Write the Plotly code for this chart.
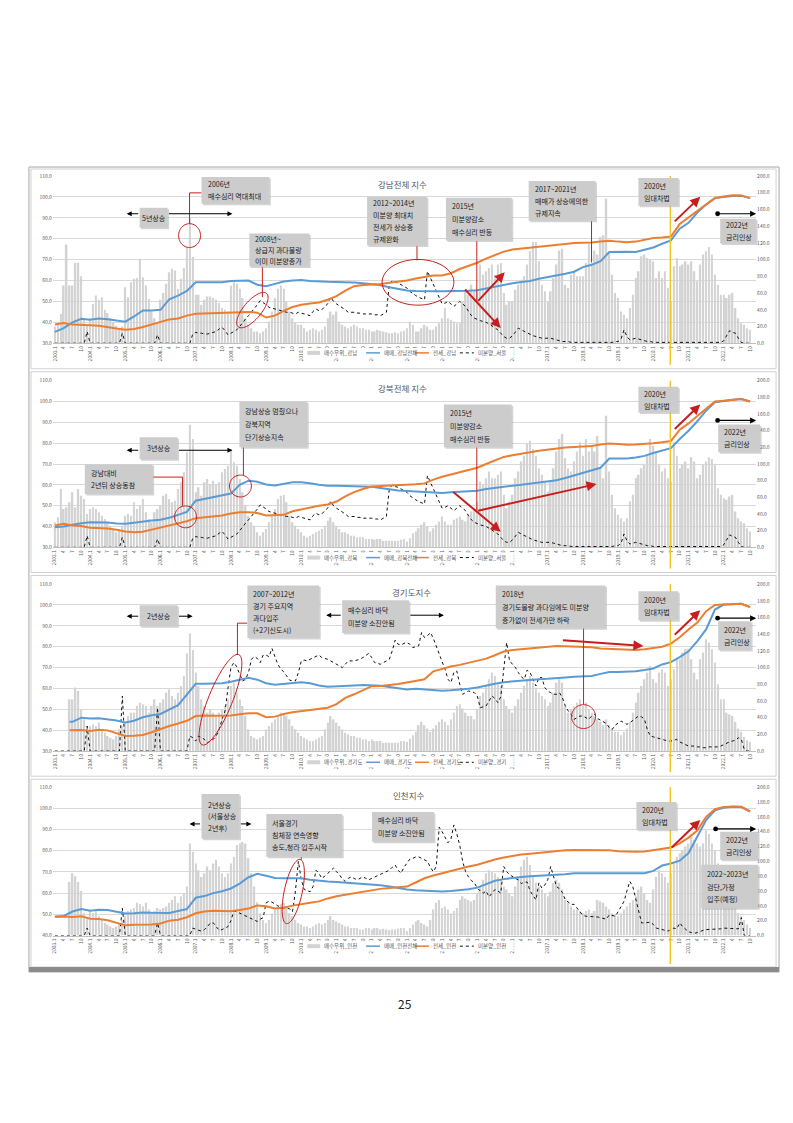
import math
import plotly.graph_objects as go

W, H = 793, 1123
FONT = "Noto Sans CJK KR, Noto Sans, sans-serif"


def px(x):
    return x / W


def py(y):
    return 1 - y / H


# ---------------------------------------------------------------- data
START_YEAR = 2003
N_MONTHS = 238  # 2003.1 .. 2022.10
MONTHS = list(range(N_MONTHS))
TICK_IDX = list(range(0, N_MONTHS, 3))
TICK_TEXT = [f"{START_YEAR + i // 12}.1" if i % 12 == 0 else str(i % 12 + 1) for i in TICK_IDX]
QX = list(range(0, N_MONTHS, 3))            # quarterly sample months for index lines
GG_QX = [5] + list(range(6, N_MONTHS, 3))   # Gyeonggi index lines start later

# buying-superiority index (bars, right axis)
GN_BUY = [
    20, 25, 35, 69, 118, 69, 69, 96, 96, 80, 30, 22,
    30, 47, 57, 52, 55, 40, 36, 30, 25, 21, 18, 20,
    67, 55, 73, 77, 78, 101, 79, 69, 53, 38, 30, 25,
    52, 60, 71, 85, 89, 87, 65, 77, 90, 115, 149, 103,
    58, 58, 46, 52, 56, 56, 54, 52, 48, 42, 40, 38,
    69, 73, 71, 65, 54, 30, 22, 18, 14, 14, 12, 14,
    18, 26, 38, 54, 65, 69, 65, 50, 38, 30, 25, 22,
    22, 18, 14, 16, 18, 16, 14, 16, 20, 30, 38, 34,
    38, 26, 22, 20, 18, 20, 22, 20, 18, 18, 16, 16,
    14, 14, 16, 15, 14, 13, 12, 12, 13, 12, 14, 15,
    18, 26, 22, 14, 14, 18, 22, 20, 16, 16, 20, 24,
    30, 42, 30, 28, 26, 24, 24, 50, 64, 58, 70, 62,
    62, 94, 82, 86, 90, 94, 82, 94, 96, 60, 46, 50,
    50, 64, 70, 76, 80, 94, 110, 121, 121, 98, 70, 62,
    50, 62, 78, 94, 111, 113, 70, 66, 82, 86, 80, 80,
    80, 96, 119, 96, 111, 106, 127, 129, 173, 110, 82, 60,
    54, 38, 34, 30, 42, 58, 78, 86, 104, 106, 102, 100,
    98, 78, 86, 78, 86, 66, 50, 92, 102, 92, 94, 98,
    94, 98, 86, 74, 94, 106, 110, 115, 106, 82, 70, 58,
    58, 54, 58, 60, 42, 30, 24, 22, 18, 16,
]
GB_BUY = [
    30, 36, 70, 46, 48, 54, 66, 48, 70, 62, 58, 40,
    46, 48, 46, 42, 38, 34, 30, 26, 22, 18, 22, 26,
    38, 40, 38, 54, 46, 50, 58, 42, 34, 30, 42, 46,
    50, 62, 64, 58, 54, 56, 70, 78, 90, 114, 147, 130,
    66, 72, 62, 78, 82, 76, 80, 76, 78, 90, 94, 98,
    118, 102, 98, 82, 66, 50, 38, 30, 26, 18, 14, 18,
    22, 30, 38, 46, 58, 62, 63, 54, 38, 30, 26, 22,
    18, 14, 12, 14, 16, 18, 20, 22, 26, 32, 36, 30,
    26, 22, 18, 18, 16, 14, 14, 12, 12, 12, 10, 10,
    10, 9, 10, 10, 8, 8, 8, 8, 8, 8, 9, 10,
    7, 11, 17, 19, 23, 27, 30, 25, 19, 23, 27, 31,
    37, 31, 27, 27, 33, 35, 37, 33, 31, 39, 43, 47,
    55, 79, 75, 83, 91, 83, 83, 87, 91, 63, 47, 55,
    63, 83, 91, 103, 110, 124, 128, 118, 110, 95, 87, 79,
    67, 79, 95, 115, 130, 136, 107, 95, 91, 103, 115, 126,
    110, 130, 115, 122, 115, 134, 95, 83, 158, 91, 63, 47,
    39, 35, 31, 35, 55, 63, 83, 87, 95, 99, 110, 130,
    122, 115, 99, 91, 95, 83, 79, 126, 110, 95, 99, 103,
    95, 108, 103, 83, 87, 99, 103, 108, 106, 99, 71, 63,
    59, 57, 61, 63, 43, 35, 31, 29, 23, 19,
]
GG_BUY = [
    0, 0, 0, 0, 0, 62, 62, 76, 72, 50, 38, 30,
    30, 32, 30, 34, 26, 22, 18, 16, 14, 18, 26, 30,
    34, 42, 46, 46, 54, 58, 56, 54, 46, 54, 62, 54,
    58, 62, 70, 74, 66, 62, 70, 78, 90, 117, 141, 121,
    94, 78, 62, 54, 46, 50, 46, 42, 46, 50, 54, 62,
    78, 82, 70, 62, 54, 42, 26, 18, 16, 14, 16, 18,
    26, 30, 34, 38, 42, 46, 44, 42, 38, 30, 26, 22,
    18, 16, 14, 12, 12, 14, 16, 18, 26, 34, 42, 38,
    34, 30, 26, 22, 20, 18, 18, 16, 16, 14, 14, 12,
    14, 12, 12, 12, 10, 10, 10, 10, 10, 10, 12, 12,
    11, 15, 19, 23, 31, 35, 31, 27, 23, 27, 31, 35,
    38, 35, 31, 38, 46, 54, 56, 51, 46, 42, 42, 38,
    50, 66, 70, 78, 86, 94, 90, 82, 78, 62, 54, 50,
    46, 54, 62, 70, 78, 86, 90, 82, 76, 70, 66, 62,
    54, 58, 70, 82, 86, 82, 54, 46, 50, 54, 58, 62,
    54, 58, 50, 46, 42, 38, 35, 31, 38, 31, 27, 23,
    23, 19, 23, 27, 35, 46, 58, 70, 78, 86, 94, 102,
    86, 82, 94, 98, 94, 78, 86, 98, 110, 110, 118, 122,
    122, 110, 94, 86, 110, 118, 134, 130, 122, 106, 80, 62,
    62, 46, 44, 42, 35, 27, 23, 17, 13, 11,
]
IC_BUY = [
    0, 0, 0, 0, 0, 72, 84, 80, 72, 60, 30, 22,
    35, 30, 33, 26, 21, 17, 15, 12, 10, 12, 17, 21,
    26, 33, 35, 37, 44, 42, 39, 44, 35, 30, 33, 37,
    35, 37, 39, 44, 48, 53, 44, 53, 57, 66, 124, 113,
    97, 88, 79, 84, 93, 88, 97, 102, 93, 84, 79, 84,
    97, 106, 122, 124, 126, 124, 104, 84, 66, 45, 30, 21,
    17, 21, 30, 35, 39, 42, 44, 39, 30, 26, 21, 17,
    15, 12, 12, 10, 12, 15, 17, 15, 17, 21, 26, 21,
    19, 17, 15, 12, 12, 10, 10, 10, 8, 8, 10, 10,
    8, 10, 10, 8, 9, 8, 7, 8, 8, 9, 10, 10,
    6, 10, 15, 19, 21, 17, 15, 12, 21, 35, 44, 48,
    37, 39, 35, 30, 33, 37, 48, 53, 50, 48, 46, 48,
    57, 66, 75, 84, 88, 86, 84, 79, 75, 66, 62, 57,
    53, 66, 79, 93, 102, 106, 95, 79, 71, 66, 62, 57,
    53, 59, 71, 75, 71, 62, 48, 44, 39, 35, 35, 33,
    30, 33, 35, 30, 33, 48, 46, 44, 39, 35, 30, 28,
    26, 30, 35, 39, 44, 48, 53, 62, 66, 57, 48, 44,
    62, 79, 88, 84, 79, 71, 84, 97, 106, 111, 115, 120,
    124, 133, 129, 124, 120, 124, 142, 137, 124, 115, 97, 79,
    66, 57, 48, 44, 39, 30, 26, 21, 15, 10,
]

# unsold housing (dotted line, right axis)
SEOUL_UNSOLD = [
    0, 0, 0, 0, 0, 0, 0, 0, 0, 0, 0, 14,
    0, 0, 0, 0, 0, 0, 0, 0, 0, 0, 0, 12,
    0, 0, 0, 0, 0, 0, 0, 0, 0, 0, 0, 10,
    0, 0, 0, 0, 0, 0, 0, 0, 0, 0, 0, 11,
    13, 12, 12, 11, 11, 12, 13, 14, 17, 19, 15, 10,
    12, 14, 16, 20, 25, 29, 33, 37, 42, 46, 51, 49,
    46, 43, 42, 41, 40, 39, 38, 37, 37, 36, 35, 37,
    36, 35, 34, 33, 38, 41, 39, 40, 44, 47, 55, 50,
    47, 45, 42, 40, 37, 37, 37, 36, 36, 35, 35, 35,
    35, 34, 34, 33, 35, 37, 70, 75, 73, 72, 70, 68,
    66, 62, 59, 57, 55, 53, 52, 86, 78, 70, 62, 56,
    47, 48, 50, 47, 44, 47, 50, 47, 44, 38, 33, 30,
    28, 27, 26, 25, 23, 21, 19, 16, 12, 8, 6, 6,
    9, 13, 18, 16, 14, 12, 10, 9, 8, 7, 6, 6,
    6, 6, 5, 4, 3, 2, 2, 2, 1, 1, 1, 1,
    1, 1, 1, 1, 1, 1, 1, 1, 1, 1, 1, 2,
    2, 5, 16, 8, 4, 5, 6, 5, 4, 3, 2, 2,
    1, 1, 1, 1, 1, 1, 1, 1, 1, 1, 1, 1,
    1, 1, 1, 1, 1, 1, 1, 1, 1, 1, 1, 1,
    3, 10, 15, 13, 12, 6, 1, 0, 0, 0,
]
GG_UNSOLD = [
    0, 0, 0, 0, 0, 0, 0, 0, 0, 0, 0, 30,
    0, 0, 0, 0, 0, 0, 0, 0, 0, 0, 0, 66,
    0, 0, 0, 0, 0, 0, 0, 0, 0, 0, 0, 52,
    0, 0, 0, 0, 0, 0, 0, 0, 0, 0, 18, 16,
    12, 18, 16, 14, 10, 12, 14, 18, 26, 38, 48, 75,
    100, 106, 101, 92, 84, 86, 94, 110, 113, 111, 106, 115,
    115, 113, 123, 113, 104, 98, 95, 90, 85, 84, 84, 94,
    108, 109, 108, 110, 112, 114, 115, 112, 111, 110, 108, 106,
    104, 102, 100, 104, 108, 108, 108, 109, 110, 112, 115, 117,
    112, 106, 105, 104, 106, 108, 110, 120, 133, 128, 127, 129,
    130, 128, 124, 125, 126, 142, 136, 138, 142, 135, 126, 118,
    108, 98, 86, 82, 94, 96, 80, 68, 70, 72, 71, 70,
    66, 52, 53, 54, 60, 66, 63, 58, 65, 95, 130, 108,
    104, 100, 94, 89, 86, 97, 94, 86, 78, 88, 88, 76,
    72, 70, 68, 68, 70, 64, 54, 48, 44, 38, 40, 42,
    42, 40, 38, 42, 44, 39, 37, 35, 33, 28, 26, 31,
    33, 36, 34, 32, 34, 37, 40, 42, 41, 38, 25, 18,
    17, 16, 15, 14, 13, 12, 12, 13, 14, 11, 9, 8,
    6, 6, 6, 5, 5, 4, 4, 5, 5, 5, 5, 6,
    8, 10, 11, 12, 13, 16, 14, 2, 0, 0,
]
IC_UNSOLD = [
    0, 0, 0, 0, 0, 0, 0, 0, 0, 0, 0, 10,
    0, 0, 0, 0, 0, 0, 0, 0, 0, 0, 0, 37,
    0, 0, 0, 0, 0, 0, 0, 0, 0, 0, 0, 17,
    0, 0, 0, 0, 0, 0, 0, 0, 0, 0, 0, 10,
    8, 7, 6, 8, 12, 17, 17, 12, 7, 8, 10, 12,
    20, 33, 32, 30, 28, 26, 24, 22, 20, 19, 22, 24,
    44, 46, 45, 42, 40, 38, 37, 37, 36, 32, 60, 100,
    75, 62, 60, 59, 66, 88, 84, 77, 80, 84, 88, 91,
    86, 82, 76, 73, 77, 79, 77, 75, 77, 79, 77, 75,
    77, 79, 81, 83, 84, 86, 88, 92, 95, 88, 84, 92,
    98, 103, 104, 106, 106, 104, 103, 100, 92, 86, 93, 146,
    140, 132, 125, 130, 149, 137, 122, 100, 86, 79, 74, 71,
    64, 60, 57, 60, 52, 57, 62, 60, 57, 93, 86, 82,
    79, 77, 75, 70, 72, 72, 60, 54, 48, 71, 64, 68,
    75, 93, 80, 66, 63, 58, 48, 45, 42, 42, 37, 33,
    27, 26, 26, 26, 26, 25, 24, 23, 22, 28, 27, 26,
    32, 39, 46, 60, 73, 66, 50, 35, 17, 17, 17, 18,
    15, 10, 9, 8, 7, 6, 8, 10, 9, 17, 12, 9,
    5, 4, 3, 4, 6, 7, 8, 8, 9, 9, 9, 9,
    10, 10, 10, 9, 9, 9, 24, 0, 0, 0,
]

# sale-price index (blue) and jeonse index (orange), left axis, quarterly samples
GN_SALE = [
    35.4, 37.2, 40, 41.7, 41.2, 41.8, 41.5, 41, 40.3, 42.8, 45.7, 45.7,
    46, 51, 52.8, 55, 59.2, 59.2, 59.2, 59.2, 59.8, 60, 60, 58,
    57.3, 58.4, 59.5, 60, 60.2, 59.8, 59.5, 59.4, 59.3, 59.3, 59, 58.7,
    58.3, 57.7, 56.8, 55.9, 55.2, 55, 54.8, 54.8, 54.8, 54.8, 54.9, 55.1,
    55.3, 56.2, 57, 57.9, 58.7, 59.3, 59.8, 60.8, 61.5, 62.3, 63.2, 64.2,
    66.4, 67.5, 69.2, 73.6, 73.8, 73.7, 73.6, 74.6, 75.8, 77.6, 79.2, 84.8,
    87.6, 92.5, 96.3, 99.4, 100, 100.4, 100.5, 99.4,
]
GN_JEONSE = [
    39, 39.7, 38.9, 38.6, 38.6, 38.4, 37.6, 37, 36.5, 36.8, 37.8, 39,
    40.3, 41.4, 41.8, 43.2, 44.1, 44.2, 44.3, 44.5, 44.6, 44.8, 44.9, 44.6,
    42.3, 43.2, 45.5, 47.3, 48.4, 49, 49.5, 50.8, 52.5, 55.2, 57.3, 57.9,
    58, 58.3, 58.9, 59.4, 60, 61, 61.8, 62.4, 62.4, 63.5, 65.5, 67,
    68.5, 70.5, 72.3, 73.8, 74.8, 75.3, 75.7, 76.1, 76.5, 77, 77.5, 77.9,
    77.9, 78.2, 78.7, 79, 78.6, 78.3, 78.6, 79.3, 80.3, 80.6, 81, 87,
    90.2, 93, 96.5, 99.5, 100.2, 100.8, 100.7, 99.4,
]
GB_SALE = [
    39.7, 40, 40.8, 41.6, 42, 42.1, 41.9, 41.5, 41.3, 41.8, 42.5, 42.9,
    43.3, 44.2, 45.6, 47, 52.4, 53.3, 54.1, 55, 55.8, 60, 62, 61.5,
    60.2, 59.7, 60.6, 61.2, 61.2, 60.8, 60, 59.6, 59.6, 59.5, 59.5, 59.3,
    59.1, 58.5, 57.8, 57.3, 57, 56.7, 56.4, 56.2, 56.1, 56.5, 56.7, 56.7,
    57.2, 58, 58.6, 59.2, 59.6, 60, 60.5, 61.3, 61.7, 62.2, 63.3, 64.6,
    65.6, 67, 68.2, 72.6, 72.6, 72.6, 73.1, 73.9, 75.3, 76.5, 77.6, 82,
    86, 90.5, 95.6, 99.6, 100.3, 100.9, 101.2, 100,
]
GB_JEONSE = [
    40.5, 41.3, 40.5, 40.2, 39.4, 39.2, 39, 38.4, 37.6, 37.3, 37.5, 38.5,
    39.5, 40.5, 41.5, 42.5, 44, 44.5, 45, 45.3, 46.2, 46.8, 46.9, 46.5,
    45.3, 45.3, 45.6, 47.3, 48.3, 49, 50, 50.6, 52, 54.5, 56.5, 58,
    59.2, 59.5, 59.7, 59.9, 59.9, 60.3, 60.7, 62.5, 63.9, 65, 66.2, 67.2,
    68.2, 70, 71.8, 73.4, 74.2, 74.8, 75.6, 76.4, 77, 77.4, 77.9, 78.2,
    78.4, 78.6, 79.4, 79.8, 79.6, 79.3, 79.4, 79.6, 80, 80.4, 81, 86.5,
    89.5, 93, 96.7, 100, 100.4, 100.9, 101.2, 100,
]
GG_SALE = [
    44,
    44, 46, 45.6, 45.7, 45.3, 44.6, 43.7, 44.5, 46.2, 47.2, 47.8, 49.8,
    52, 57, 62.2, 62.2, 62.2, 62.5, 63.2, 64.3, 65.1, 64.2, 62.5, 61.8,
    62.2, 62.8, 63, 62.5, 61.4, 60.8, 60.9, 61.1, 61.4, 61.6, 61.6, 61.3,
    60.7, 60, 59.5, 59.8, 59.4, 59.1, 58.9, 59.1, 59.4, 59.9, 60.5, 61.5,
    62.3, 63, 63.4, 63.7, 64, 64.4, 64.6, 64.8, 65.3, 65.6, 65.8, 66,
    67, 67.9, 67.9, 67.9, 68.2, 68.8, 69.6, 71.5, 72.6, 75, 77.8, 82.7,
    88.3, 97.8, 100.2, 100.3, 100.6, 99,
]
GG_JEONSE = [
    40,
    40, 40.1, 39.6, 40.2, 39.9, 38.5, 37.2, 37.3, 37.7, 39, 40.6, 42,
    43.2, 44.5, 46.8, 47.1, 46.9, 46.9, 47.1, 47.6, 48.1, 48.1, 46.2, 46.5,
    47.8, 48.6, 49.1, 49.6, 50.1, 50.8, 52.5, 55.5, 57.2, 59.2, 61.1, 61.2,
    61.6, 62.1, 62.9, 63.6, 64.4, 68.2, 69.4, 70.5, 71.3, 72.2, 73.2, 74.3,
    75.9, 77.7, 78.4, 78.8, 79.2, 79.7, 80.2, 80.3, 80.2, 80.1, 79.9, 79.7,
    79.2, 79, 78.8, 78.6, 78.4, 78.8, 79.5, 80, 81.5, 84.5, 88.3, 91.6,
    97, 100, 100.2, 100.4, 100.6, 99,
]
IC_SALE = [
    48.8, 49.2, 51.3, 52.5, 51.7, 52.2, 52, 51.2, 50.4, 50.5, 50.9, 50.7,
    50.6, 50.6, 51.6, 52.5, 57.8, 58.6, 60, 60.9, 62.2, 64.5, 67.5, 69.1,
    68.2, 67.1, 67, 67, 67, 66.3, 65.8, 65.5, 65.3, 65, 64.7, 64.4,
    64, 63.7, 63.1, 62.3, 61.7, 61.4, 61.1, 60.9, 60.8, 61, 61.3, 61.8,
    62.6, 64.3, 65.8, 66.6, 67.2, 67.6, 68, 68.2, 68.4, 68.6, 68.9, 69.4,
    69.4, 69.4, 69.4, 69.4, 69.2, 69.1, 69.2, 69.4, 70.5, 73, 74, 75.3,
    78.9, 86.5, 94.5, 99.1, 100.3, 100.8, 100.6, 98.5,
]
IC_JEONSE = [
    48.8, 49, 48.7, 49.1, 47.9, 47.8, 47.2, 45.9, 44.8, 45.1, 45.2, 45.2,
    45.7, 47, 47.4, 48.6, 50.5, 51.3, 51.7, 51.5, 51.4, 52, 52.7, 54.2,
    53.8, 52.7, 53.1, 54.1, 54.9, 55.5, 56.1, 57.5, 58.5, 59.2, 60.1, 60.8,
    61.4, 62, 62.4, 62.8, 63.1, 65, 67, 68.3, 69.4, 70.6, 71.7, 72.6,
    73.4, 74.8, 75.9, 76.8, 77.6, 78.2, 78.6, 79, 79.4, 80, 80.2, 80.3,
    80.3, 80.2, 80.2, 80.2, 79.8, 79.5, 79.5, 79.6, 80.2, 81, 81.5, 83.5,
    86.2, 89.5, 96, 99.6, 100.6, 100.9, 100.7, 98.5,
]

PANELS = [
    dict(title="강남전체 지수", buy=GN_BUY, unsold=SEOUL_UNSOLD, sale=GN_SALE, jeonse=GN_JEONSE, qx=QX,
         names=("매수우위_강남", "매매_강남전체", "전세_강남", "미분양_서울"), ymin=30, ymax=110),
    dict(title="강북전체 지수", buy=GB_BUY, unsold=SEOUL_UNSOLD, sale=GB_SALE, jeonse=GB_JEONSE, qx=QX,
         names=("매수우위_강북", "매매_강북전체", "전세_강북", "미분양_서울"), ymin=30, ymax=110),
    dict(title="경기도지수", buy=GG_BUY, unsold=GG_UNSOLD, sale=GG_SALE, jeonse=GG_JEONSE, qx=GG_QX,
         names=("매수우위_경기도", "매매_경기도", "전세_경기도", "미분양_경기"), ymin=30, ymax=110),
    dict(title="인천지수", buy=IC_BUY, unsold=IC_UNSOLD, sale=IC_SALE, jeonse=IC_JEONSE, qx=QX,
         names=("매수우위_인천", "매매_인천전체", "전세_인천", "미분양_인천"), ymin=40, ymax=110),
]

for p in PANELS:
    assert len(p["buy"]) == N_MONTHS and len(p["unsold"]) == N_MONTHS, p["title"]
    assert len(p["sale"]) == len(p["qx"]) and len(p["jeonse"]) == len(p["qx"]), p["title"]

# ---------------------------------------------------------------- layout geometry (pixels)
PLOT_X0, PLOT_X1 = 43, 748
GEOM = [  # plot top / bottom, title position, legend y
    dict(top=165, bottom=333.3, title=(393, 173), leg=343),
    dict(top=371, bottom=538.7, title=(393, 378), leg=549),
    dict(top=575.7, bottom=743.7, title=(403, 584), leg=755),
    dict(top=780, bottom=929.3, title=(400, 788), leg=940),
]
XRANGE = [-0.68, 239.04]

BLUE, ORANGE, BARC = "#5b9bd5", "#ed7d31", "#d3d3d3"
RED, YEL = "#c81e1e", "#f2c521"
GRAY_TXT = "#595959"

fig = go.Figure()
layout = dict(width=W, height=H, margin=dict(l=0, r=0, t=0, b=0),
              paper_bgcolor="white", plot_bgcolor="white", showlegend=False,
              font=dict(family=FONT, color=GRAY_TXT), barmode="overlay")

for k, (p, g) in enumerate(zip(PANELS, GEOM), start=1):
    xn = "x" if k == 1 else f"x{k}"
    base_i, over_i = 2 * k - 1, 2 * k
    yb = "y" if base_i == 1 else f"y{base_i}"
    yo = f"y{over_i}"

    fig.add_trace(go.Bar(x=MONTHS, y=p["buy"], xaxis=xn, yaxis=yb, name=p["names"][0],
                         marker=dict(color=BARC, line=dict(width=0)), width=0.55))
    fig.add_trace(go.Scatter(x=p["qx"], y=p["sale"], xaxis=xn, yaxis=yo, name=p["names"][1], mode="lines",
                             line=dict(color=BLUE, width=2)))
    fig.add_trace(go.Scatter(x=p["qx"], y=p["jeonse"], xaxis=xn, yaxis=yo, name=p["names"][2], mode="lines",
                             line=dict(color=ORANGE, width=2)))
    fig.add_trace(go.Scatter(x=MONTHS, y=p["unsold"], xaxis=xn, yaxis=yb, name=p["names"][3], mode="lines",
                             line=dict(color="#111111", width=1, dash="dot")))

    dom_y = [py(g["bottom"]), py(g["top"])]
    xkey = "xaxis" if k == 1 else f"xaxis{k}"
    ybkey = "yaxis" if base_i == 1 else f"yaxis{base_i}"
    yokey = f"yaxis{over_i}"
    layout[xkey] = dict(domain=[px(PLOT_X0), px(PLOT_X1)], anchor=yb, range=XRANGE,
                        tickmode="array", tickvals=TICK_IDX, ticktext=TICK_TEXT, tickangle=-90,
                        tickfont=dict(size=5, color=GRAY_TXT), ticks="", showgrid=False,
                        showline=True, linecolor="#bfbfbf", linewidth=1, zeroline=False, fixedrange=True)
    layout[ybkey] = dict(domain=dom_y, anchor=xn, side="right", range=[0, 200],
                         tickmode="array", tickvals=list(range(0, 201, 20)),
                         ticktext=[f"{v:.1f}" for v in range(0, 201, 20)],
                         tickfont=dict(size=5, color=GRAY_TXT), showgrid=False, zeroline=False,
                         showline=False, ticks="")
    lt = list(range(p["ymin"], p["ymax"] + 1, 10))
    layout[yokey] = dict(overlaying=yb, anchor=xn, side="left", range=[p["ymin"], p["ymax"]],
                         tickmode="array", tickvals=lt, ticktext=[f"{v:.1f}" for v in lt],
                         tickfont=dict(size=5, color=GRAY_TXT), showgrid=True, gridcolor="#d9d9d9",
                         gridwidth=0.8, zeroline=False, showline=False, ticks="")

# ---------------------------------------------------------------- annotation helpers
shapes, annotations = [], []


def frame(x0, y0, x1, y1, color, w=1):
    shapes.append(dict(type="rect", xref="paper", yref="paper", x0=px(x0), x1=px(x1), y0=py(y1), y1=py(y0),
                       line=dict(color=color, width=w), fillcolor="rgba(0,0,0,0)", layer="below"))


def box(x0, y0, x1, y1, lines, align="left", lh=12, fs=7):
    shapes.append(dict(type="rect", xref="paper", yref="paper", x0=px(x0 + 1.5), x1=px(x1 + 1.5),
                       y0=py(y1 + 1.5), y1=py(y0 + 1.5), fillcolor="#a9a9a9", line=dict(width=0), opacity=0.5))
    shapes.append(dict(type="rect", xref="paper", yref="paper", x0=px(x0), x1=px(x1), y0=py(y1), y1=py(y0),
                       fillcolor="#cccccc", line=dict(width=0)))
    n = len(lines)
    cy0 = (y0 + y1) / 2 - (n - 1) * lh / 2
    for j, t in enumerate(lines):
        if align == "left":
            x, xa = px(x0 + 4), "left"
        else:
            x, xa = px((x0 + x1) / 2), "center"
        annotations.append(dict(xref="paper", yref="paper", x=x, y=py(cy0 + j * lh), text=t, showarrow=False,
                                xanchor=xa, yanchor="middle", font=dict(size=fs, color="#1a1a1a", family=FONT)))


def seg(x0, y0, x1, y1, color=RED, w=1, dash="solid"):
    shapes.append(dict(type="line", xref="paper", yref="paper", x0=px(x0), y0=py(y0), x1=px(x1), y1=py(y1),
                       line=dict(color=color, width=w, dash=dash)))


def ellipse(cx, cy, rx, ry, ang=0.0, color=RED):
    a = math.radians(ang)
    pts = []
    for s in range(61):
        t = 2 * math.pi * s / 60
        ex, ey = rx * math.cos(t), ry * math.sin(t)
        X = cx + ex * math.cos(a) - ey * math.sin(a)
        Y = cy - (ex * math.sin(a) + ey * math.cos(a))
        pts.append(f"{px(X):.5f},{py(Y):.5f}")
    path = "M " + " L ".join(pts) + " Z"
    shapes.append(dict(type="path", xref="paper", yref="paper", path=path, line=dict(color=color, width=1)))


def arrow(tx, ty, hx, hy, color=RED, w=2, dot=False, head=2):
    d = dict(xref="paper", yref="paper", x=px(hx), y=py(hy), ax=tx - hx, ay=ty - hy,
             axref="pixel", ayref="pixel", showarrow=True, text="", arrowhead=head, arrowsize=1,
             arrowwidth=w, arrowcolor=color)
    if dot:
        d.update(arrowside="end+start", startarrowhead=6, startarrowsize=1)
    annotations.append(d)


def title(x, y, t):
    annotations.append(dict(xref="paper", yref="paper", x=px(x), y=py(y), text=t, showarrow=False,
                            xanchor="center", yanchor="middle", font=dict(size=8.5, color=GRAY_TXT, family=FONT)))


def legend_row(y, names):
    # white backing (hides tick labels under the legend, as in the source chart)
    shapes.append(dict(type="rect", xref="paper", yref="paper", x0=px(294), x1=px(505), y0=py(y + 5),
                       y1=py(y - 5), fillcolor="white", line=dict(width=0)))
    shapes.append(dict(type="rect", xref="paper", yref="paper", x0=px(298), x1=px(311), y0=py(y + 2),
                       y1=py(y - 2), fillcolor=BARC, line=dict(width=0)))
    seg(357, y, 371, y, color=BLUE, w=1.5)
    seg(406, y, 420, y, color=ORANGE, w=1.5)
    seg(451, y, 465, y, color="#111111", w=1, dash="dot")
    for xx, t in zip([313, 373, 422, 467], names):
        annotations.append(dict(xref="paper", yref="paper", x=px(xx), y=py(y), text=t, showarrow=False,
                                xanchor="left", yanchor="middle", font=dict(size=5.5, color=GRAY_TXT, family=FONT)))


# frames
frame(19, 156, 771, 966, "#a6a6a6")
for (a, b) in [(158, 359), (362, 564), (567, 769), (772, 961)]:
    frame(21, a, 768, b, "#d0d0d0")
shapes.append(dict(type="rect", xref="paper", yref="paper", x0=px(19), x1=px(771), y0=py(966), y1=py(961),
                   fillcolor="#8c8c8c", line=dict(width=0)))

# yellow 2020.7 lines
for g, bot in zip(GEOM, [355, 560, 765, 958]):
    seg(662, g["top"], 662, bot, color=YEL, w=1.5)

for g, p in zip(GEOM, PANELS):
    title(g["title"][0], g["title"][1], p["title"])
    legend_row(g["leg"], p["names"])

# ---- panel 1 (Gangnam)
seg(180, 182, 192, 182); seg(180, 182, 180, 213)
ellipse(180, 225, 11, 12)
seg(253, 256, 253, 287)
ellipse(243, 300, 22, 9, 50)
seg(408, 235, 408, 250)
ellipse(409, 272, 36, 23)
seg(468, 230, 468, 292)
seg(583, 210, 583, 252)
arrow(130, 203, 117, 203, color="black", w=1); arrow(158, 203, 223, 203, color="black", w=1)
arrow(468, 292, 496, 262); arrow(455, 278, 492, 318)
arrow(665, 212, 692, 186)
arrow(708, 203, 748, 203, color="black", w=1.2, dot=True)
box(192, 166, 260, 193, ["2006년", "매수심리 역대최대"])
box(130, 197, 158, 217, ["5년상승"], align="center")
box(240, 223, 300, 256, ["2008년~", "상급지 과다물량", "이미 미분양증가"], lh=11)
box(358, 186, 418, 235, ["2012~2014년", "미분양 최대치", "전세가 상승중", "규제완화"])
box(437, 187, 503, 230, ["2015년", "미분양감소", "매수심리 반등"], lh=13)
box(520, 170, 587, 210, ["2017~2021년", "매매가 상승에의한", "규제지속"], lh=12)
box(630, 167, 670, 195, ["2020년", "임대차법"])
box(712, 208, 748, 233, ["2022년", "금리인상"])

# ---- panel 2 (Gangbuk)
seg(234, 438, 234, 466)
ellipse(231, 477, 11, 11)
seg(143, 468, 173, 468); seg(173, 468, 173, 497)
ellipse(176, 508, 11, 11)
seg(468, 438, 468, 502)
arrow(130, 441, 117, 441, color="black", w=1); arrow(168, 441, 223, 441, color="black", w=1)
arrow(443, 482, 492, 523); arrow(468, 502, 588, 475)
arrow(665, 421, 692, 395)
arrow(708, 411, 748, 411, color="black", w=1.2, dot=True)
box(230, 392, 298, 438, ["강남상승 멈췄으나", "강북지역", "단기상승지속"], lh=13)
box(130, 428, 168, 450, ["3년상승"], align="center")
box(75, 455, 143, 485, ["강남대비", "2년뒤 상승동참"])
box(435, 395, 503, 438, ["2015년", "미분양감소", "매수심리 반등"], lh=13)
box(630, 377, 670, 403, ["2020년", "임대차법"])
box(710, 415, 752, 443, ["2022년", "금리인상"])

# ---- panel 3 (Gyeonggi)
seg(228, 615, 238, 615); seg(228, 615, 228, 647)
ellipse(211, 692, 49, 12, 68)
seg(575, 620, 575, 697)
ellipse(575, 709, 12, 12)
arrow(130, 608, 117, 608, color="black", w=1); arrow(168, 608, 183, 608, color="black", w=1)
arrow(333, 607, 317, 607, color="black", w=1); arrow(400, 607, 435, 607, color="black", w=1)
arrow(553, 632, 635, 638)
arrow(665, 628, 692, 602)
arrow(708, 610, 748, 610, color="black", w=1.2, dot=True)
box(130, 597, 168, 618, ["2년상승"], align="center")
box(238, 577, 310, 630, ["2007~2012년", "경기 주요지역", "과다입주", "(+2기신도시)"])
box(333, 592, 400, 625, ["매수심리 바닥", "미분양 소진안됨"], lh=13)
box(487, 577, 597, 620, ["2018년", "경기도물량 과다임에도 미분양", "증가없이 전세가만 하락"], lh=13)
box(630, 583, 670, 612, ["2020년", "임대차법"])
box(710, 613, 743, 642, ["2022년", "금리인상"])

# ---- panel 4 (Incheon)
seg(292, 850, 292, 853)
ellipse(284, 885, 33, 9, 78)
arrow(192, 817, 180, 817, color="black", w=1); arrow(230, 817, 242, 817, color="black", w=1)
arrow(662, 842, 692, 813)
arrow(706, 822, 748, 822, color="black", w=1.2, dot=True)
box(192, 787, 230, 832, ["2년상승", "(서울상승", "2년후)"])
box(257, 807, 333, 850, ["서울경기", "침체장 연속영향", "송도,청라 입주시작"])
box(363, 805, 425, 835, ["매수심리 바닥", "미분양 소진안됨"], lh=13)
box(628, 795, 668, 823, ["2020년", "임대차법"])
box(712, 825, 750, 853, ["2022년", "금리인상"])
box(693, 858, 750, 902, ["2022~2023년", "검단,가정", "입주(예정)"], lh=13)

# page number
annotations.append(dict(xref="paper", yref="paper", x=px(396), y=py(998), text="25", showarrow=False,
                        xanchor="center", yanchor="middle", font=dict(size=12, color="#222222", family=FONT)))

layout["shapes"] = shapes
layout["annotations"] = annotations
fig.update_layout(**layout)
fig.write_html("out.html")
